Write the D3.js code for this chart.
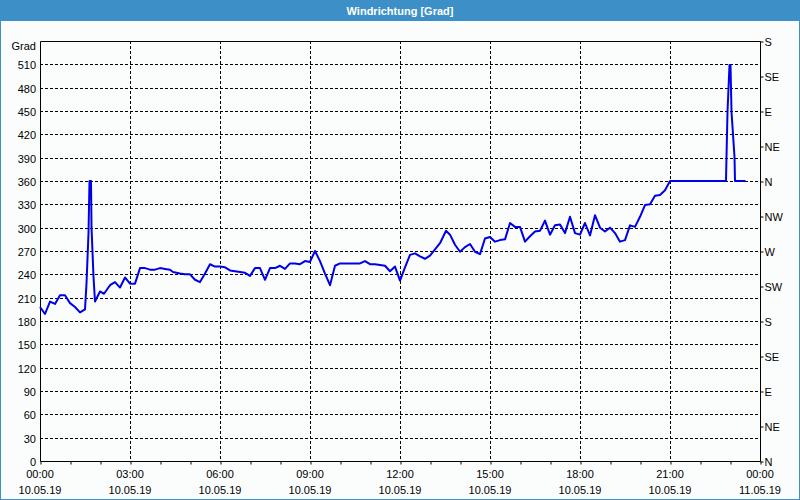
<!DOCTYPE html>
<html>
<head>
<meta charset="utf-8">
<script src="https://cdn.jsdelivr.net/npm/d3@7"></script>
<style>
  html, body { margin: 0; padding: 0; background: #fbfdfd; }
  svg { display: block; }
  text { font-family: "Liberation Sans", Arial, sans-serif; font-size: 11px; fill: #000; }
</style>
</head>
<body>
<svg id="chart" width="800" height="500"></svg>
<script>
// ---- data ----
const chartTitle = "Windrichtung [Grad]";
const yUnit = "Grad";
// minutes since 10.05.19 00:00
const timeMinutes = [0,10,20,30,40,50,60,70,80,90,93,97,99,102,103,107,110,120,128,140,150,160,170,180,190,200,210,220,230,240,250,260,266,280,290,300,310,320,330,340,350,360,370,380,390,400,410,420,430,440,450,460,470,480,490,500,510,520,530,540,550,560,570,580,590,600,610,620,630,640,650,660,670,680,690,700,710,720,730,740,750,760,770,780,790,800,812,820,830,840,850,860,870,880,890,900,910,920,930,940,950,960,970,980,990,1000,1010,1020,1030,1040,1050,1060,1070,1080,1090,1100,1110,1120,1130,1140,1150,1160,1170,1180,1190,1200,1210,1220,1230,1240,1250,1260,1372,1373,1375,1379,1381,1383,1389,1390,1411];
const windDeg = [198,189,205,202,213,213,203,198,191,195,228,293,360,360,301,237,205,218,215,226,230,223,236,228,228,248,248,246,246,248,247,246,243,241,240,240,233,230,241,253,250,250,249,245,244,243,242,238,248,248,233,248,248,251,247,254,254,253,257,256,270,257,241,226,251,254,254,254,254,254,257,253,253,252,251,244,250,232,249,265,267,263,260,264,272,280,296,291,278,269,275,279,269,266,286,288,282,284,285,306,301,301,282,289,295,296,309,291,303,304,293,314,293,291,306,290,316,300,295,300,293,282,284,303,301,314,329,330,341,342,348,360,360,391,449,509,509,449,391,360,360];
const yTicks = [0,30,60,90,120,150,180,210,240,270,300,330,360,390,420,450,480,510];
const compassTicks = [0,45,90,135,180,225,270,315,360,405,450,495,540];
const compassLabels = ["N","NE","E","SE","S","SW","W","NW","N","NE","E","SE","S"];
const xTickMinutes = [0,180,360,540,720,900,1080,1260,1440];
const xTimeLabels = ["00:00","03:00","06:00","09:00","12:00","15:00","18:00","21:00","00:00"];
const xDateLabels = ["10.05.19","10.05.19","10.05.19","10.05.19","10.05.19","10.05.19","10.05.19","10.05.19","11.05.19"];

// ---- layout ----
const W = 800, H = 500;
const blue = "#3d8fc7";
const svg = d3.select("#chart");
const x = d3.scaleLinear().domain([0, 1440]).range([40, 760]);
const y = d3.scaleLinear().domain([0, 540]).range([461, 41]);
const px = v => Math.round(v) + 0.5;

// background and window border
svg.append("rect").attr("x", 0).attr("y", 0).attr("width", W).attr("height", H).attr("fill", "#fbfdfd");
svg.append("rect").attr("x", 0.5).attr("y", 0.5).attr("width", W - 1).attr("height", H - 1)
  .attr("fill", "none").attr("stroke", blue);
svg.append("rect").attr("x", 0).attr("y", 0).attr("width", W).attr("height", 21).attr("fill", blue);
svg.append("text").attr("x", 400).attr("y", 15).attr("text-anchor", "middle")
  .style("font-weight", "bold").style("fill", "#fff").text(chartTitle);

// grid
const grid = svg.append("g").attr("stroke", "#000").attr("stroke-width", 1).attr("stroke-dasharray", "3,2");
grid.selectAll("line.h").data(yTicks.filter(d => d > 0)).join("line")
  .attr("x1", x(0)).attr("x2", x(1440))
  .attr("y1", d => px(y(d))).attr("y2", d => px(y(d)));
grid.selectAll("line.v").data(xTickMinutes.filter(d => d > 0 && d < 1440)).join("line")
  .attr("y1", y(540)).attr("y2", y(0))
  .attr("x1", d => px(x(d))).attr("x2", d => px(x(d)));

// left axis labels
const leftAxis = d3.axisLeft(y).tickValues(yTicks).tickSize(0).tickPadding(4);
const gl = svg.append("g").attr("transform", "translate(40,0)").call(leftAxis);
gl.select(".domain").remove();
gl.selectAll("text").attr("font-family", null).attr("font-size", null).attr("dy", "0.4em");
svg.append("text").attr("x", 36).attr("y", 50).attr("text-anchor", "end").text(yUnit);

// right compass axis
const rightAxis = d3.axisRight(y).tickValues(compassTicks)
  .tickFormat((d, i) => compassLabels[i]).tickSize(3).tickPadding(1);
const gr = svg.append("g").attr("transform", "translate(760.5,0)").call(rightAxis);
gr.select(".domain").remove();
gr.selectAll("line").attr("transform", "translate(0,0.5)").attr("stroke", "#000");
gr.selectAll("text").attr("font-family", null).attr("font-size", null).attr("dy", "0.45em");

// bottom axis: hourly minor ticks
const hourly = d3.range(0, 1441, 60);
const bottomAxis = d3.axisBottom(x).tickValues(hourly).tickSize(3).tickFormat("");
const gb = svg.append("g").attr("transform", "translate(0,461.5)").call(bottomAxis);
gb.select(".domain").remove();
gb.selectAll("line").attr("transform", "translate(0.5,0)").attr("stroke", "#000");
const xl = svg.append("g").attr("text-anchor", "middle");
xl.selectAll("text.t").data(xTickMinutes).join("text")
  .attr("x", d => x(d)).attr("y", 478).text((d, i) => xTimeLabels[i]);
xl.selectAll("text.d").data(xTickMinutes).join("text")
  .attr("x", d => x(d)).attr("y", 494).text((d, i) => xDateLabels[i]);

// frame
svg.append("path")
  .attr("d", `M${px(x(0))},${px(y(540))}H${px(x(1440))}V${px(y(0))}H${px(x(0))}Z`)
  .attr("fill", "none").attr("stroke", "#000");

// data line
const line = d3.line().x((d, i) => x(timeMinutes[i])).y(d => y(d));
svg.append("path").datum(windDeg).attr("d", line)
  .attr("fill", "none").attr("stroke", "#0000e8").attr("stroke-width", 2)
  .attr("stroke-linejoin", "round");
</script>
</body>
</html>
